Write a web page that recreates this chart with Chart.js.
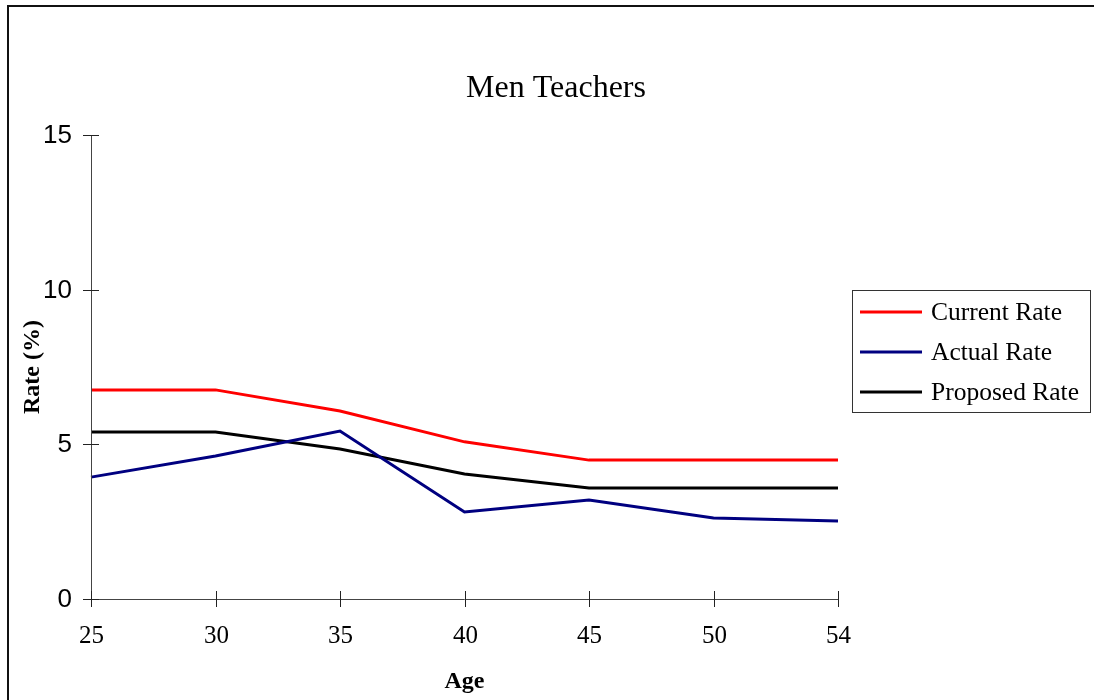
<!DOCTYPE html>
<html>
<head>
<meta charset="utf-8">
<script src="https://cdn.jsdelivr.net/npm/chart.js@4/dist/chart.umd.min.js"></script>
<style>
  html, body { margin: 0; padding: 0; background: #fff; overflow: hidden; }
  #wrap { position: relative; width: 1094px; height: 700px; }
</style>
</head>
<body>
<div id="wrap"><canvas id="c"></canvas></div>
<script>
// Age bands and rates (%)
const ages = ['25', '30', '35', '40', '45', '50', '54'];
const currentRate  = [6.76, 6.76, 6.08, 5.08, 4.49, 4.49, 4.49];
const actualRate   = [3.94, 4.62, 5.43, 2.81, 3.20, 2.62, 2.52];
const proposedRate = [5.40, 5.40, 4.85, 4.04, 3.59, 3.59, 3.59];
const yTicks = [0, 5, 10, 15];

const SERIF = '"Liberation Serif", "Times New Roman", serif';
const SANS = '"Liberation Sans", Arial, sans-serif';

// Draws frame, axes with crossing tick marks, labels, title and boxed legend
const decor = {
  id: 'decor',
  beforeDraw(chart) {
    const ctx = chart.ctx;
    ctx.save();
    ctx.strokeStyle = '#111';
    ctx.lineWidth = 2;
    ctx.beginPath();
    ctx.moveTo(8, 720);
    ctx.lineTo(8, 6);
    ctx.lineTo(1110, 6);
    ctx.stroke();
    ctx.restore();
  },
  afterDatasetsDraw(chart) {
    const ctx = chart.ctx;
    const x = chart.scales.x, y = chart.scales.y;
    const a = chart.chartArea;
    ctx.save();
    // axis lines
    ctx.strokeStyle = '#444';
    ctx.lineWidth = 1;
    ctx.beginPath();
    ctx.moveTo(a.left + 0.5, a.top);
    ctx.lineTo(a.left + 0.5, a.bottom);
    ctx.moveTo(a.left, a.bottom + 0.5);
    ctx.lineTo(a.right, a.bottom + 0.5);
    ctx.stroke();
    // y ticks and labels
    ctx.strokeStyle = '#222';
    ctx.fillStyle = '#000';
    ctx.font = '26px ' + SANS;
    ctx.textAlign = 'right';
    ctx.textBaseline = 'middle';
    yTicks.forEach(v => {
      const py = Math.round(y.getPixelForValue(v)) + 0.5;
      ctx.beginPath();
      ctx.moveTo(a.left - 8, py);
      ctx.lineTo(a.left + 8, py);
      ctx.stroke();
      ctx.fillText(String(v), a.left - 19, py);
    });
    // x ticks and labels
    ctx.font = '25px ' + SERIF;
    ctx.textAlign = 'center';
    ages.forEach((lab, i) => {
      const px = Math.round(x.getPixelForValue(i)) + 0.5;
      ctx.beginPath();
      ctx.moveTo(px, a.bottom - 8);
      ctx.lineTo(px, a.bottom + 8);
      ctx.stroke();
      ctx.fillText(lab, px, a.bottom + 37);
    });
    // axis titles
    ctx.font = 'bold 24px ' + SERIF;
    ctx.fillText('Age', (a.left + a.right) / 2, 682);
    ctx.save();
    ctx.translate(33, (a.top + a.bottom) / 2);
    ctx.rotate(-Math.PI / 2);
    ctx.fillText('Rate (%)', 0, 0);
    ctx.restore();
    // title
    ctx.font = '32px ' + SERIF;
    ctx.fillText('Men Teachers', 556, 89);
    // legend
    ctx.strokeStyle = '#333';
    ctx.lineWidth = 1;
    ctx.strokeRect(852.5, 290.5, 238, 122);
    ctx.font = '25.5px ' + SERIF;
    ctx.textAlign = 'left';
    chart.data.datasets.forEach((ds, i) => {
      const ry = 312 + i * 40;
      ctx.strokeStyle = ds.borderColor;
      ctx.lineWidth = 3;
      ctx.beginPath();
      ctx.moveTo(860, ry);
      ctx.lineTo(922, ry);
      ctx.stroke();
      ctx.fillStyle = '#000';
      ctx.fillText(ds.label, 931, ry + 1);
    });
    ctx.restore();
  }
};

new Chart(document.getElementById('c'), {
  type: 'line',
  data: {
    labels: ages,
    datasets: [
      { label: 'Current Rate', data: currentRate, borderColor: '#ff0000', borderWidth: 3, pointRadius: 0, tension: 0, fill: false },
      { label: 'Actual Rate', data: actualRate, borderColor: '#000080', borderWidth: 3, pointRadius: 0, tension: 0, fill: false },
      { label: 'Proposed Rate', data: proposedRate, borderColor: '#000000', borderWidth: 3, pointRadius: 0, tension: 0, fill: false }
    ]
  },
  options: {
    responsive: true,
    maintainAspectRatio: false,
    animation: false,
    layout: { padding: { left: 91, right: 256, top: 135, bottom: 101 } },
    plugins: { legend: { display: false }, title: { display: false }, tooltip: { enabled: false } },
    scales: {
      x: { display: false, offset: false },
      y: { display: false, min: 0, max: 15 }
    }
  },
  plugins: [decor]
});
</script>
</body>
</html>
